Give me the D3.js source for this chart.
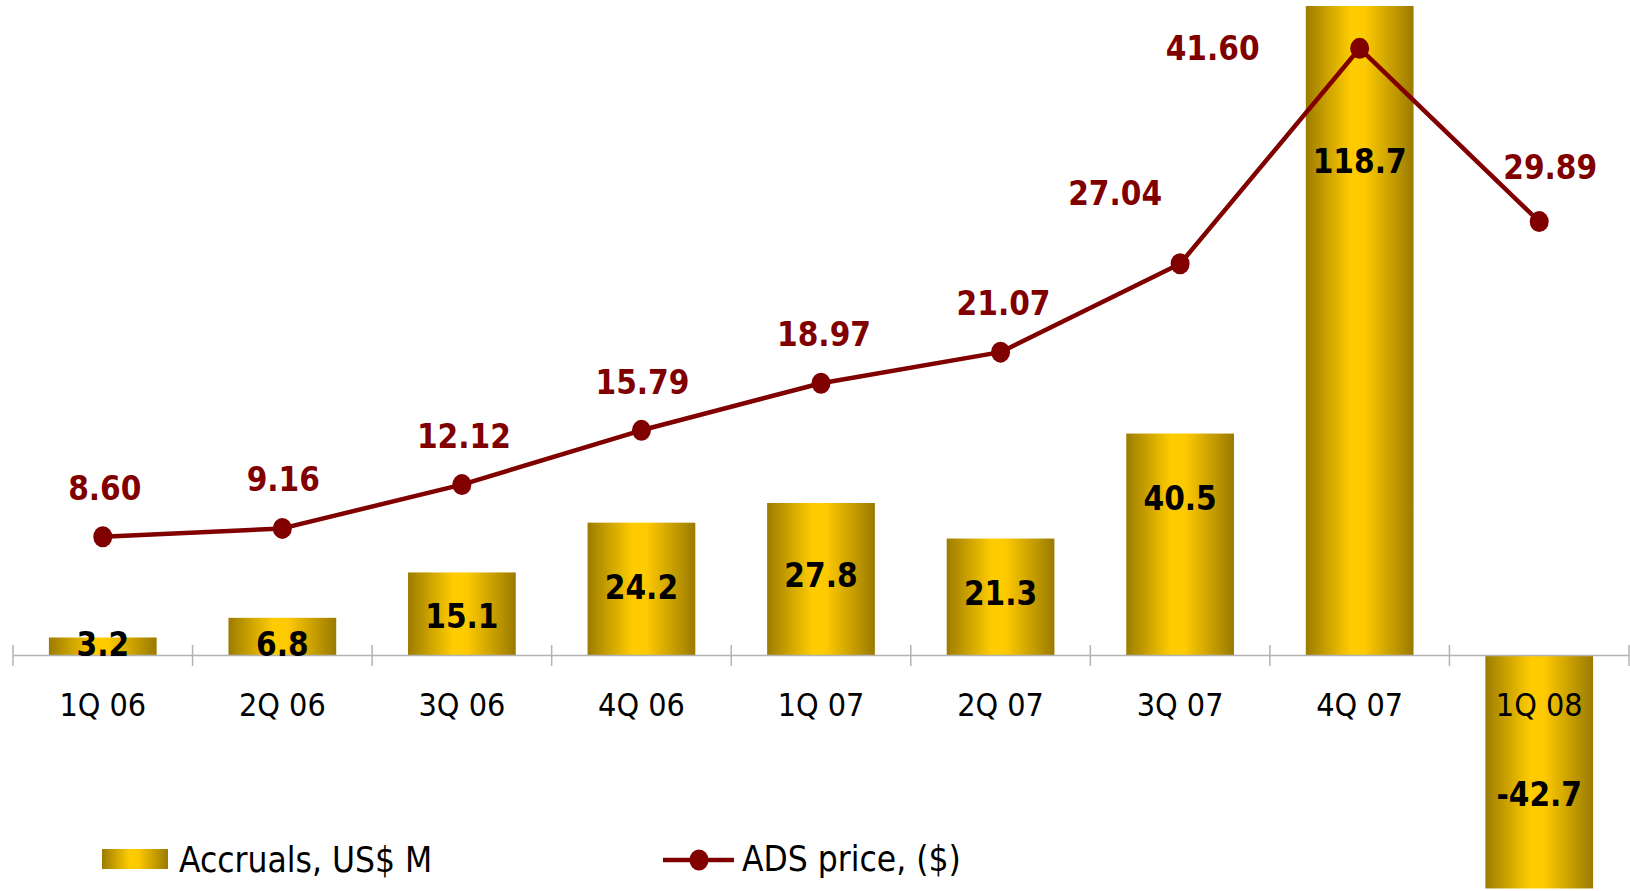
<!DOCTYPE html>
<html>
<head>
<meta charset="utf-8">
<script src="https://cdn.jsdelivr.net/npm/d3@7"></script>
<style>
  html, body { margin: 0; padding: 0; background: #fff; }
  svg { display: block; }
  text { font-family: "DejaVu Sans Condensed", "DejaVu Sans", sans-serif; font-stretch: condensed; }
</style>
</head>
<body>
<svg id="chart" width="1630" height="891"></svg>
<script>
// quarters on the x axis
var quarters = ["1Q 06", "2Q 06", "3Q 06", "4Q 06", "1Q 07", "2Q 07", "3Q 07", "4Q 07", "1Q 08"];
// bars: accruals, US$ M
var accruals = [3.2, 6.8, 15.1, 24.2, 27.8, 21.3, 40.5, 118.7, -42.7];
// line: ADS price ($)
var adsPrice = [8.60, 9.16, 12.12, 15.79, 18.97, 21.07, 27.04, 41.60, 29.89];
// where the bar value sits, in accrual units
var accrualLabelAt = [2.0, 2.0, 7.1, 12.4, 14.6, 11.4, 28.7, 90.4, -25.4];

var legendNames = ["Accruals, US$ M", "ADS price, ($)"];

// price label nudges, px from the point (most sit just above)
var priceNudge = [[2, -37], [1, -37], [2, -37], [1, -36], [3, -37], [3, -37], [-65, -59], [-147, 12], [11, -43]];

var svg = d3.select("#chart");
var red = "#800000";

var x = d3.scaleBand()
    .domain(quarters)
    .range([13, 1629])
    .paddingInner(0.4)
    .paddingOuter(0.2);

var yBar = d3.scaleLinear()
    .domain([0, 118.7])
    .range([655, 6]);

var yPrice = d3.scaleLinear()
    .domain([0, 41.6])
    .range([664, 48.3]);

// gold gradient for the bars
var defs = svg.append("defs");
var grad = defs.append("linearGradient")
    .attr("id", "gold")
    .attr("x1", "0%").attr("x2", "100%")
    .attr("y1", "0%").attr("y2", "0%");
grad.append("stop").attr("offset", "0%").attr("stop-color", "#9c7c00");
grad.append("stop").attr("offset", "42%").attr("stop-color", "#ffcc00");
grad.append("stop").attr("offset", "55%").attr("stop-color", "#fdc900");
grad.append("stop").attr("offset", "100%").attr("stop-color", "#9a7a00");

// bars
svg.append("g").selectAll("rect")
    .data(accruals)
    .enter()
    .append("rect")
    .attr("x", function(d, i) { return x(quarters[i]); })
    .attr("width", x.bandwidth())
    .attr("y", function(d) { return yBar(Math.max(0, d)); })
    .attr("height", function(d) { return Math.abs(yBar(d) - yBar(0)); })
    .attr("fill", "url(#gold)");

// axis with labels
var axis = svg.append("g")
    .attr("transform", "translate(0," + yBar(0) + ")")
    .call(d3.axisBottom(x).tickSize(0).tickSizeOuter(0).tickPadding(38));
axis.select(".domain").attr("stroke", "#b3b3b3").attr("stroke-width", 1.5);
axis.selectAll("text")
    .attr("font-size", 32)
    .attr("fill", "#000")
    .style("font-family", null);

// ticks between the categories
var bounds = d3.range(quarters.length + 1).map(function(i) { return x.range()[0] + i * x.step(); });
svg.append("g").selectAll("line")
    .data(bounds)
    .enter()
    .append("line")
    .attr("x1", function(d) { return d; })
    .attr("x2", function(d) { return d; })
    .attr("y1", yBar(0) - 10)
    .attr("y2", yBar(0) + 11)
    .attr("stroke", "#b3b3b3")
    .attr("stroke-width", 1.5);

// bar values
svg.append("g").selectAll("text")
    .data(accruals)
    .enter()
    .append("text")
    .attr("x", function(d, i) { return x(quarters[i]) + x.bandwidth() / 2; })
    .attr("y", function(d, i) { return yBar(accrualLabelAt[i]) + 12; })
    .attr("text-anchor", "middle")
    .attr("font-size", 33)
    .attr("font-weight", "bold")
    .attr("fill", "#000")
    .text(function(d) { return d.toFixed(1); });

// price line
var line = d3.line()
    .x(function(d, i) { return x(quarters[i]) + x.bandwidth() / 2; })
    .y(function(d) { return yPrice(d); });

svg.append("path")
    .datum(adsPrice)
    .attr("d", line)
    .attr("fill", "none")
    .attr("stroke", red)
    .attr("stroke-width", 4.5)
    .attr("stroke-linejoin", "round");

svg.append("g").selectAll("ellipse")
    .data(adsPrice)
    .enter()
    .append("ellipse")
    .attr("cx", function(d, i) { return x(quarters[i]) + x.bandwidth() / 2; })
    .attr("cy", function(d) { return yPrice(d); })
    .attr("rx", 9.5)
    .attr("ry", 10.5)
    .attr("fill", red);

svg.append("g").selectAll("text")
    .data(adsPrice)
    .enter()
    .append("text")
    .attr("x", function(d, i) { return x(quarters[i]) + x.bandwidth() / 2 + priceNudge[i][0]; })
    .attr("y", function(d, i) { return yPrice(d) + priceNudge[i][1]; })
    .attr("text-anchor", "middle")
    .attr("font-size", 33)
    .attr("font-weight", "bold")
    .attr("fill", red)
    .text(function(d) { return d.toFixed(2); });

// legend
var leg = svg.append("g");
leg.append("rect")
    .attr("x", 102).attr("y", 849)
    .attr("width", 66).attr("height", 20)
    .attr("fill", "url(#gold)");
leg.append("text")
    .attr("x", 179).attr("y", 872)
    .attr("font-size", 35)
    .text(legendNames[0]);

leg.append("line")
    .attr("x1", 663).attr("x2", 734)
    .attr("y1", 860).attr("y2", 860)
    .attr("stroke", red)
    .attr("stroke-width", 4.5);
leg.append("ellipse")
    .attr("cx", 699).attr("cy", 860)
    .attr("rx", 9.5).attr("ry", 10.5)
    .attr("fill", red);
leg.append("text")
    .attr("x", 742).attr("y", 871)
    .attr("font-size", 35)
    .text(legendNames[1]);
</script>
</body>
</html>
